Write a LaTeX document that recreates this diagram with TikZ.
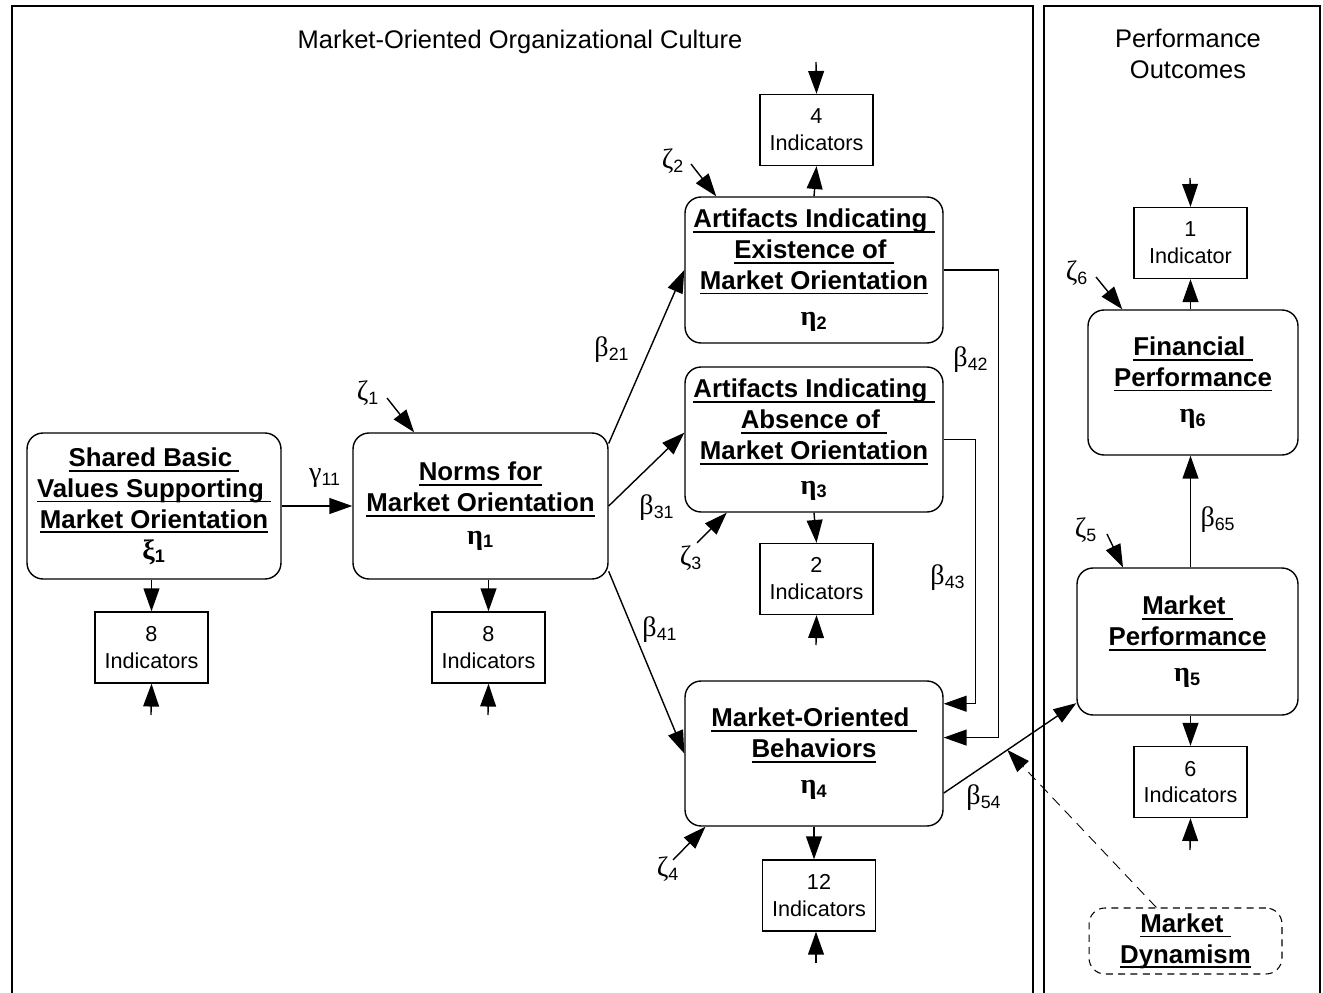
\documentclass[tikz,border=0pt]{standalone}
\usepackage{fontspec}
\setmainfont{Liberation Sans}
\newfontfamily\grk{Liberation Serif}
\usetikzlibrary{arrows.meta}

\newsavebox\ulbox
\newcommand\ulin[1]{\sbox\ulbox{#1}\rlap{\rule[-3pt]{\wd\ulbox}{1.1pt}}\usebox\ulbox}
\newcommand\gk[2]{{\grk\fontsize{16}{18}\selectfont #1}\textsubscript{#2}}

\tikzset{
  construct/.style={draw,line width=0.8pt,rounded corners=0.32cm,align=center,inner sep=0pt,
    font=\bfseries\fontsize{14.7}{17.6}\selectfont},
  indbox/.style={draw,line width=0.8pt,minimum width=2.26cm,minimum height=1.42cm,align=center,
    inner sep=0pt,font=\fontsize{12.3}{15.3}\selectfont},
  link/.style={line width=0.8pt,-{Triangle[length=13pt,width=9pt]}},
  coef/.style={font=\fontsize{14.5}{16}\selectfont,inner sep=1pt},
  heading/.style={font=\fontsize{14.5}{18}\selectfont,align=center}
}

\begin{document}
\begin{tikzpicture}[x=0.02cm,y=-0.02cm]
\path[use as bounding box] (0,0) rectangle (1323,993);
% frames
\draw[line width=1pt] (12,993) -- (12,6) -- (1033,6) -- (1033,993);
\draw[line width=1pt] (1044,993) -- (1044,6) -- (1320,6) -- (1320,993);
\node[heading] (culture) at (520,42) {Market-Oriented Organizational Culture};
\node[heading] (outcomes) at (1188,54) {Performance\\Outcomes};

% constructs
\node[construct,minimum width=5.08cm,minimum height=2.92cm] (shared) at (154,506)
  {\ulin{Shared Basic }\\\ulin{Values Supporting }\\\ulin{Market Orientation}\\\gk{ξ}{1}};
\node[construct,minimum width=5.1cm,minimum height=2.92cm] (norms) at (480.5,506)
  {\ulin{Norms for}\\\ulin{Market Orientation}\\[1pt]\gk{η}{1}};
\node[construct,minimum width=5.16cm,minimum height=2.92cm] (artexist) at (814,270)
  {\ulin{Artifacts Indicating }\\\ulin{Existence of }\\\ulin{Market Orientation}\\[3pt]\gk{η}{2}};
\node[construct,minimum width=5.16cm,minimum height=2.9cm] (artabsent) at (814,439.5)
  {\ulin{Artifacts Indicating }\\\ulin{Absence of }\\\ulin{Market Orientation}\\[2pt]\gk{η}{3}};
\node[construct,minimum width=5.16cm,minimum height=2.9cm] (behav) at (814,753.5)
  {\ulin{Market-Oriented }\\\ulin{Behaviors}\\[3pt]\gk{η}{4}};
\node[construct,minimum width=4.2cm,minimum height=2.9cm] (finperf) at (1193,382.5)
  {\ulin{Financial }\\\ulin{Performance}\\[3pt]\gk{η}{6}};
\node[construct,minimum width=4.42cm,minimum height=2.94cm] (mktperf) at (1187.5,641.5)
  {\ulin{Market }\\\ulin{Performance}\\[3pt]\gk{η}{5}};
\node[construct,dashed,line width=0.6pt,dash pattern=on 4pt off 3pt,minimum width=3.86cm,
  minimum height=1.32cm] (dynam) at (1185.5,941) {\ulin{Market }\\\ulin{Dynamism}};

% indicator boxes
\node[indbox] (ind1) at (151.5,647.5) {8\\Indicators};
\node[indbox] (ind2) at (488.5,647.5) {8\\Indicators};
\node[indbox] (ind3) at (816.5,130) {4\\Indicators};
\node[indbox] (ind4) at (816.5,579) {2\\Indicators};
\node[indbox] (ind5) at (819,895.5) {12\\Indicators};
\node[indbox] (ind6) at (1190.5,243) {1\\Indicator};
\node[indbox] (ind7) at (1190.5,782) {6\\Indicators};

\coordinate (err1) at (151,715);
\coordinate (err2) at (488,715);
\coordinate (err3) at (816,62);
\coordinate (err4) at (816,645);
\coordinate (err5) at (816,963);
\coordinate (err6) at (1190,178);
\coordinate (err7) at (1190,850);

\draw[link] (ind1.north |- shared.south) -- (ind1.north);
\draw[link] (err1) -- (ind1.south);
\draw[link] (ind2.north |- norms.south) -- (ind2.north);
\draw[link] (err2) -- (ind2.south);
\draw[link] (artexist.north) -- (ind3.south);
\draw[link] (err3) -- (ind3.north);
\draw[link] (artabsent.south) -- (ind4.north);
\draw[link] (err4) -- (ind4.south);
\draw[link] (behav.south) -- (behav.south |- ind5.north);
\draw[link] (err5) -- (err5 |- ind5.south);
\draw[link] (ind6.south |- finperf.north) -- (ind6.south);
\draw[link] (err6) -- (ind6.north);
\draw[link] (ind7.north |- mktperf.south) -- (ind7.north);
\draw[link] (err7) -- (ind7.south);

% structural paths
\draw[link] (shared.east) -- (norms.west);
\draw[link] (norms.26) -- (artexist.west);
\draw[link] (norms.east) -- (artabsent.177);
\draw[link] (norms.-27) -- (behav.west);
\draw[link] (artexist.east) -- ++(55,0) |- (behav.7);
\draw[link] (artabsent.east) -- ++(32,0) |- (behav.21);
\draw[link] (behav.-17) -- coordinate[pos=0.48] (moder) (mktperf.209);
\draw[link] (ind7.north |- mktperf.north) -- (ind7.north |- finperf.south);
\draw[link,line width=0.5pt,dash pattern=on 6pt off 4pt] (dynam.131) -- (moder);

\node[coef] (g11) at (325,478) {\gk{γ}{11}};
\node[coef] (b21) at (612,350) {\gk{β}{21}};
\node[coef] (b31) at (657,508) {\gk{β}{31}};
\node[coef] (b41) at (660,630) {\gk{β}{41}};
\node[coef] (b42) at (971,360) {\gk{β}{42}};
\node[coef] (b43) at (948,578) {\gk{β}{43}};
\node[coef] (b54) at (984,798) {\gk{β}{54}};
\node[coef] (b65) at (1218,520) {\gk{β}{65}};

% disturbances
\node[coef] (z1) at (368,393) {\gk{ζ}{1}};
\node[coef] (z2) at (673,161) {\gk{ζ}{2}};
\node[coef] (z3) at (691,558) {\gk{ζ}{3}};
\node[coef] (z4) at (668,869) {\gk{ζ}{4}};
\node[coef] (z5) at (1086,530) {\gk{ζ}{5}};
\node[coef] (z6) at (1077,273) {\gk{ζ}{6}};
\coordinate (z1s) at (387,398);
\coordinate (z2s) at (691,164);
\coordinate (z3s) at (697,543);
\coordinate (z4s) at (673,860);
\coordinate (z5s) at (1107,534);
\coordinate (z6s) at (1096,277);
\draw[link] (z1s) -- (norms.132);
\draw[link] (z2s) -- (artexist.143);
\draw[link] (z3s) -- (artabsent.220);
\draw[link] (z4s) -- (behav.214);
\draw[link] (z5s) -- (mktperf.131);
\draw[link] (z6s) -- (finperf.134);
\end{tikzpicture}
\end{document}
